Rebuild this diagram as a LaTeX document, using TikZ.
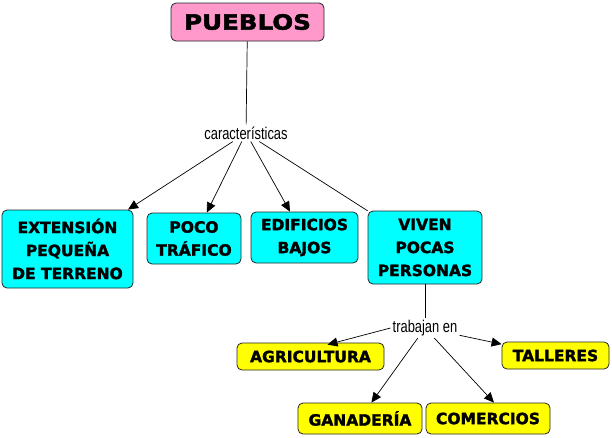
\documentclass[tikz,border=0pt]{standalone}
\usepackage{fontspec}
\setmainfont{Liberation Sans}
\newfontfamily\titlefont[FakeStretch=1.17,FakeBold=2.2]{DejaVu Sans Bold}
\newfontfamily\boxfont[FakeStretch=1.0,FakeBold=1.8]{DejaVu Sans Bold}
\newfontfamily\labfont[FakeStretch=0.76]{Liberation Sans}
\usetikzlibrary{arrows.meta}
\definecolor{pinkbox}{HTML}{FF99CC}
\definecolor{cyanbox}{HTML}{00FFFF}
\definecolor{yellowbox}{HTML}{FFFF00}
\tikzset{
  base/.style={draw=black!85, line width=0.8pt, rounded corners=5pt, align=center, inner sep=0pt},
  cbox/.style={base, fill=cyanbox, font=\boxfont\fontsize{15.5}{23}\selectfont},
  ybox/.style={base, fill=yellowbox, font=\boxfont\fontsize{15.5}{17}\selectfont},
  lab/.style={font=\labfont\fontsize{17}{19}\selectfont, inner sep=2pt},
  conn/.style={line width=0.7pt, black},
  arr/.style={conn, -{Triangle[length=10pt,width=9pt]}},
}
\begin{document}
\begin{tikzpicture}[x=1pt,y=-1pt]
\useasboundingbox (0,0) rectangle (612,437);
\node[base, fill=pinkbox, minimum width=153pt, minimum height=38pt, font=\titlefont\fontsize{21}{24}\selectfont] (pueblos) at (247.5,22) {PUEBLOS};
\node[lab] (car) at (246,133) {características};
\node[cbox, minimum width=131pt, minimum height=78pt] (ext) at (67.5,249) {EXTENSIÓN\\PEQUEÑA\\DE TERRENO};
\node[cbox, minimum width=94pt, minimum height=51pt] (poco) at (194,238.5) {POCO\\TRÁFICO};
\node[cbox, minimum width=107pt, minimum height=51pt] (edif) at (304.5,237.5) {EDIFICIOS\\BAJOS};
\node[cbox, minimum width=114pt, minimum height=73pt] (viven) at (425,247.5) {VIVEN\\POCAS\\PERSONAS};
\node[lab] (trab) at (425,328) {trabajan en};
\node[ybox, minimum width=147pt, minimum height=27pt] (agri) at (310.5,356.5) {AGRICULTURA};
\node[ybox, minimum width=107pt, minimum height=27pt] (tall) at (555.5,355.5) {TALLERES};
\node[ybox, minimum width=124pt, minimum height=31pt] (gana) at (360,418.5) {GANADERÍA};
\node[ybox, minimum width=124pt, minimum height=31pt] (comer) at (488,418.5) {COMERCIOS};
\draw[conn] (pueblos) -- (car);
\draw[arr] (car) -- (ext);
\draw[arr] (car) -- (poco);
\draw[arr] (car) -- (edif);
\draw[conn] (car) -- (viven);
\draw[conn] (viven) -- (trab);
\draw[arr] (trab.west) -- ([xshift=17pt,yshift=-2pt]agri.north);
\draw[arr] (trab) -- (tall);
\draw[arr] (trab) -- (gana);
\draw[arr] (trab) -- ([xshift=6pt]comer.north);
\end{tikzpicture}
\end{document}
